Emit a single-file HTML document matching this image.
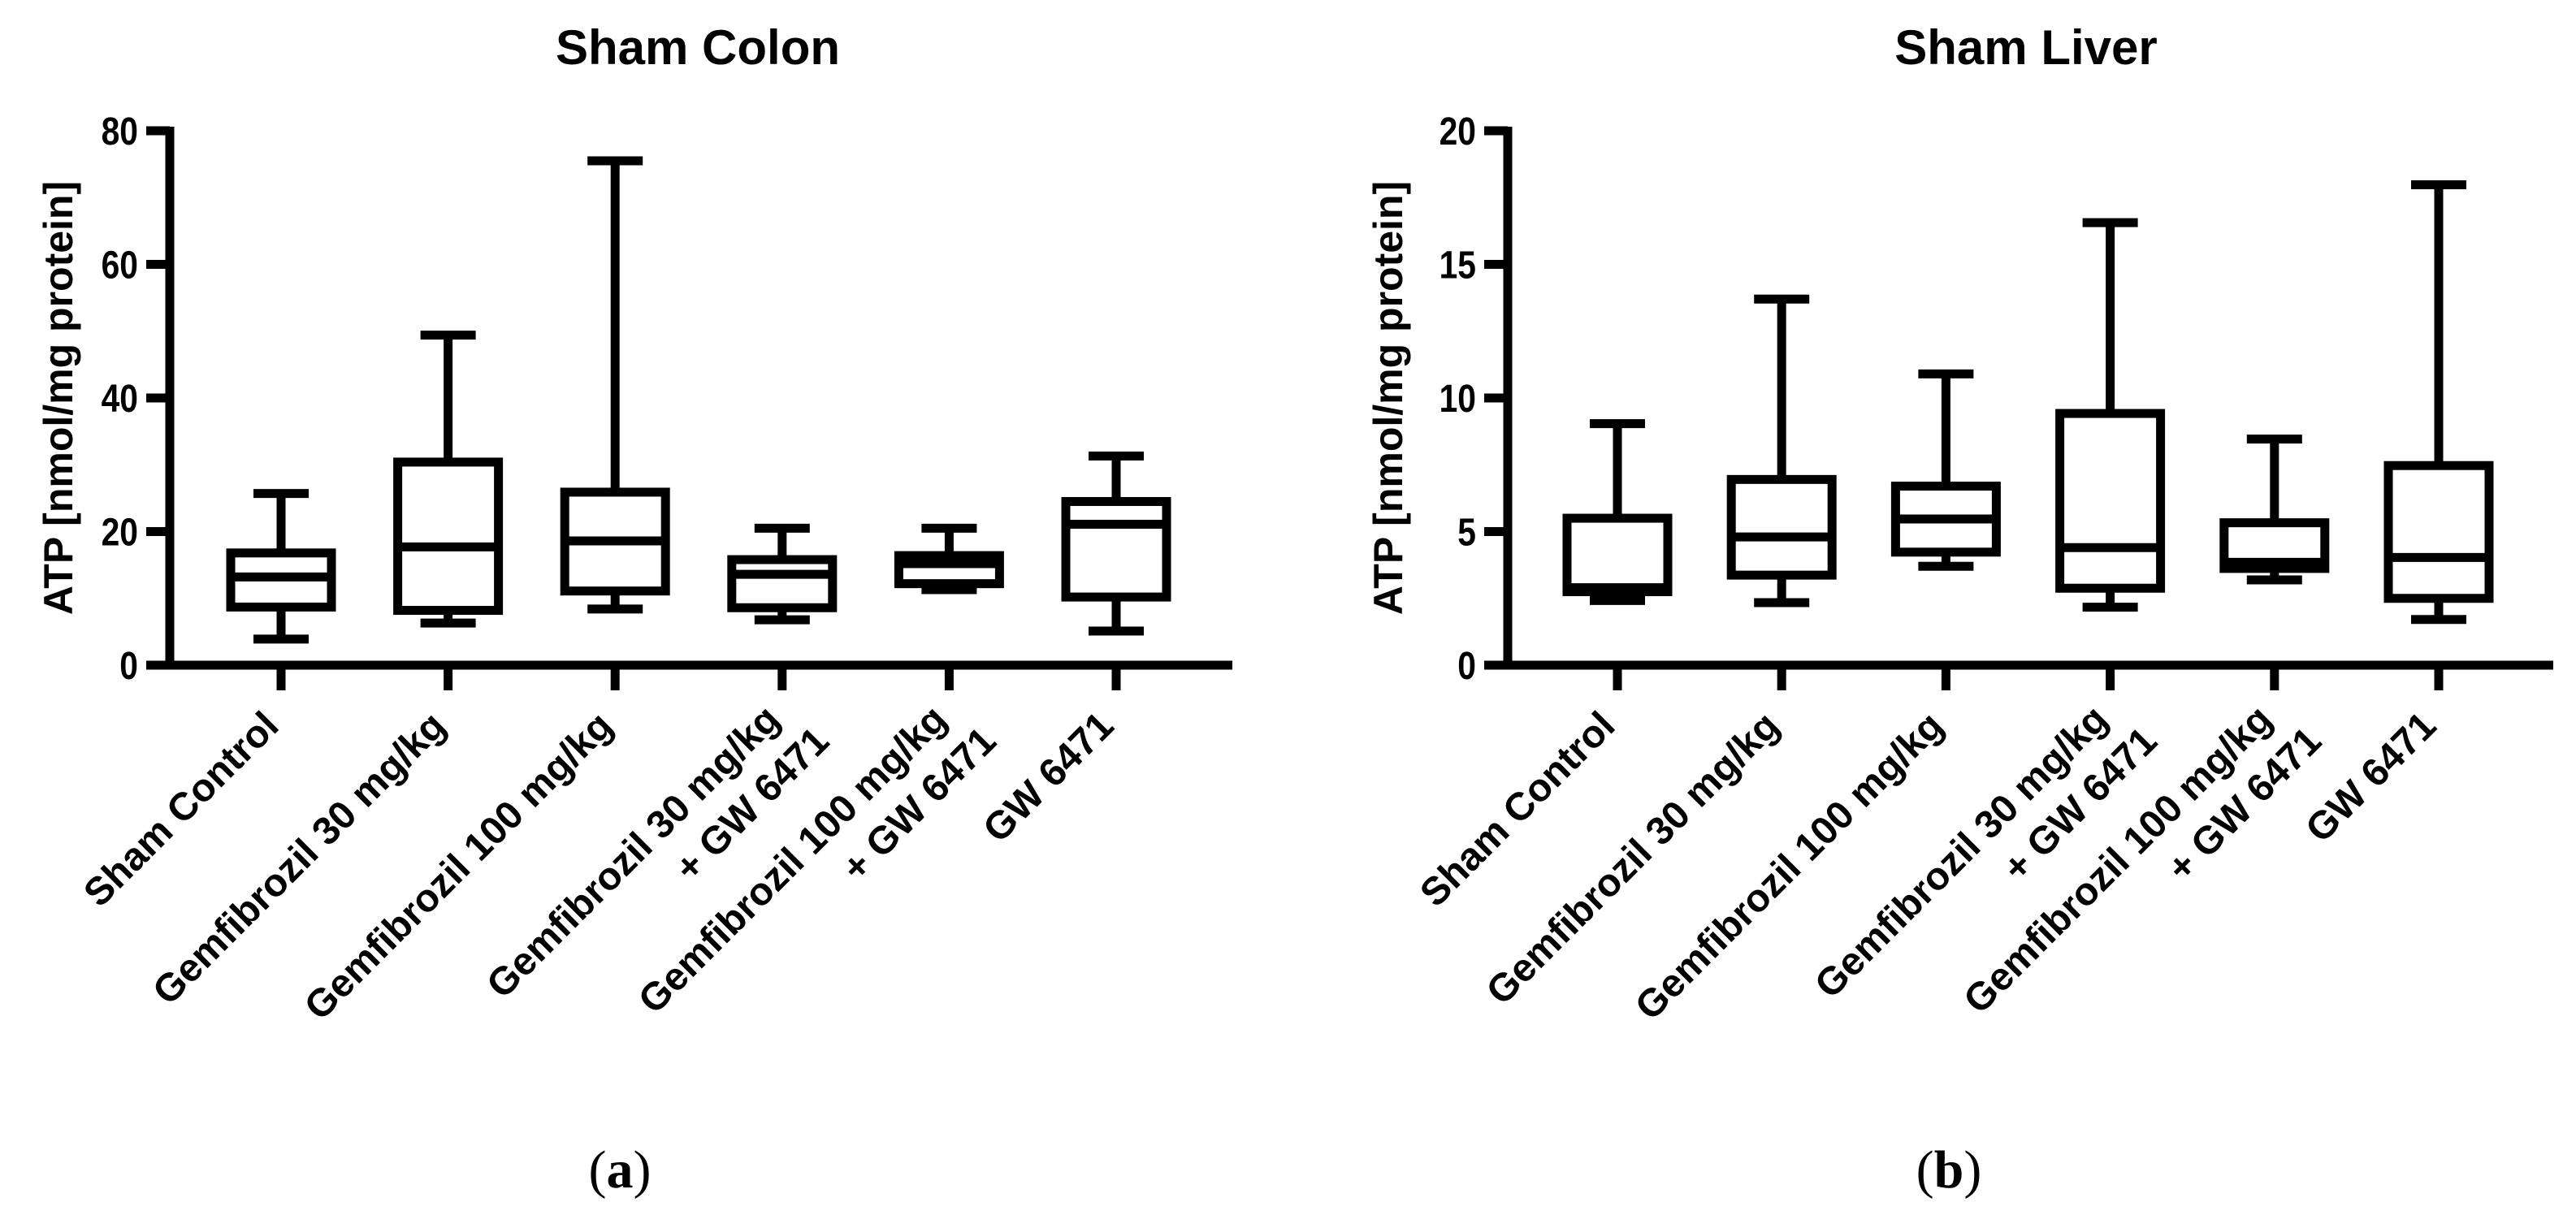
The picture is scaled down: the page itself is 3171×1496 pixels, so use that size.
<!DOCTYPE html>
<html><head><meta charset="utf-8"><style>
html,body{margin:0;padding:0;background:#fff;}
svg{display:block;}
text{font-family:"Liberation Sans",Arial,sans-serif;font-weight:bold;fill:#000;}
</style></head>
<body>
<svg id="fig" width="3171" height="1496" viewBox="0 0 3171 1496" xmlns="http://www.w3.org/2000/svg"></svg>
<script>
const categories = [["Sham Control"],["Gemfibrozil 30 mg/kg"],["Gemfibrozil 100 mg/kg"],["Gemfibrozil 30 mg/kg","+ GW 6471"],["Gemfibrozil 100 mg/kg","+ GW 6471"],["GW 6471"]];
const colonMin = [3.9, 6.3, 8.4, 6.8, 11.3, 5.1];
const colonQ1 = [8.7, 8.2, 11.1, 8.6, 12.2, 10.2];
const colonMed = [13.2, 17.7, 18.6, 13.6, 15.2, 21.1];
const colonQ3 = [16.8, 30.4, 25.9, 15.8, 16.4, 24.5];
const colonMax = [25.7, 49.4, 75.5, 20.5, 20.5, 31.3];
const colonTicks = [0, 20, 40, 60, 80];
const liverMin = [2.42, 2.34, 3.7, 2.17, 3.19, 1.71];
const liverQ1 = [2.75, 3.37, 4.23, 2.88, 3.62, 2.5];
const liverMed = [2.9, 4.8, 5.47, 4.4, 3.85, 4.03];
const liverQ3 = [5.5, 6.95, 6.7, 9.42, 5.33, 7.47];
const liverMax = [9.04, 13.7, 10.9, 16.56, 8.46, 17.98];
const liverTicks = [0, 5, 10, 15, 20];

const NS = "http://www.w3.org/2000/svg";
const svg = document.getElementById('fig');
function mk(tag, attrs, parent){
  const e = document.createElementNS(NS, tag);
  for (const k in attrs) e.setAttribute(k, attrs[k]);
  (parent||svg).appendChild(e);
  return e;
}
const LW = 11;
function chart(cfg){
  const g = mk('g', {});
  
  
  const y0 = 819, y1 = 161;
  const ymax = cfg.ticks[cfg.ticks.length-1];
  const ys = v => y0 - (v/ymax)*(y0-y1);
  const xs = i => cfg.x0 + i*cfg.step;
  const t = mk('text', {x: cfg.titleX, y: 79, 'font-size': 60, 'text-anchor':'middle'}, g);
  t.textContent = cfg.title;
  
  
  const yt = mk('text', {x: 0, y: 0, 'font-size': 50, 'text-anchor':'middle', transform:`translate(${cfg.ytX},490) rotate(-90)`}, g);
  yt.textContent = 'ATP [nmol/mg protein]';
  
  
  const ya = mk('line', {x1: cfg.ax, y1: y1-5, x2: cfg.ax, y2: y0, stroke:'#000','stroke-width':LW}, g);
  
  
  const xa = mk('line', {x1: cfg.ax-29, y1: y0, x2: cfg.xEnd, y2: y0, stroke:'#000','stroke-width':LW}, g);
  
  
  cfg.ticks.forEach(v => {
    const tk = mk('line', {x1: cfg.ax-29, y1: ys(v), x2: cfg.ax, y2: ys(v), stroke:'#000','stroke-width':LW}, g);
    
    
    const tl = mk('text', {x: 0, y: 0, 'font-size': 48, 'text-anchor':'end', transform:`translate(${cfg.ax-39},${ys(v)+17}) scale(0.85,1)`}, g);
    tl.textContent = v;
    
    
  });
  categories.forEach((lab, i) => {
    const cx = xs(i);
    const tk = mk('line', {x1: cx, y1: y0, x2: cx, y2: 850, stroke:'#000','stroke-width':LW}, g);
    
    
    const tx = mk('text', {'font-size': 48, 'text-anchor':'end', transform:`translate(${cx+8},${lab.length>1?880:888}) rotate(-45)`}, g);
    
    
    lab.forEach((ln, j) => {
      const sp = mk('tspan', {x: j ? 12 : -12, y: j*62}, tx);
      sp.textContent = ln;
    });
    const d = cfg.data;
    const bw = 124, cw = 68;
    const bg = mk('g', {fill:'none', stroke:'#000','stroke-width':LW}, g);
    
    
    mk('line', {x1: cx, y1: ys(d.max[i]), x2: cx, y2: ys(d.q3[i])}, bg);
    mk('line', {x1: cx, y1: ys(d.q1[i]), x2: cx, y2: ys(d.min[i])}, bg);
    mk('line', {x1: cx-cw/2, y1: ys(d.max[i]), x2: cx+cw/2, y2: ys(d.max[i])}, bg);
    mk('line', {x1: cx-cw/2, y1: ys(d.min[i]), x2: cx+cw/2, y2: ys(d.min[i])}, bg);
    mk('rect', {x: cx-bw/2, y: ys(d.q3[i]), width: bw, height: ys(d.q1[i])-ys(d.q3[i]), fill:'#fff'}, bg);
    mk('line', {x1: cx-bw/2, y1: ys(d.med[i]), x2: cx+bw/2, y2: ys(d.med[i])}, bg);
  });
  const pl = mk('text', {x: cfg.panelX, y: 1462, 'font-size': 66, 'text-anchor':'middle', style:'font-family:"Liberation Serif",serif;font-weight:normal'}, g);
  pl.innerHTML = '(<tspan font-weight="bold">' + cfg.panel + '</tspan>)';
  
  
}
chart({name:'sham-colon-chart', title:'Sham Colon', titleX:859, ytX:89, ax:209, xEnd:1517, x0:346, step:205.6, ticks:colonTicks, panel:'a', panelX:763,
  data:{min:colonMin,q1:colonQ1,med:colonMed,q3:colonQ3,max:colonMax}});
chart({name:'sham-liver-chart', title:'Sham Liver', titleX:2494, ytX:1726, ax:1856, xEnd:3143, x0:1991, step:202.2, ticks:liverTicks, panel:'b', panelX:2399,
  data:{min:liverMin,q1:liverQ1,med:liverMed,q3:liverQ3,max:liverMax}});
</script>
</body></html>
